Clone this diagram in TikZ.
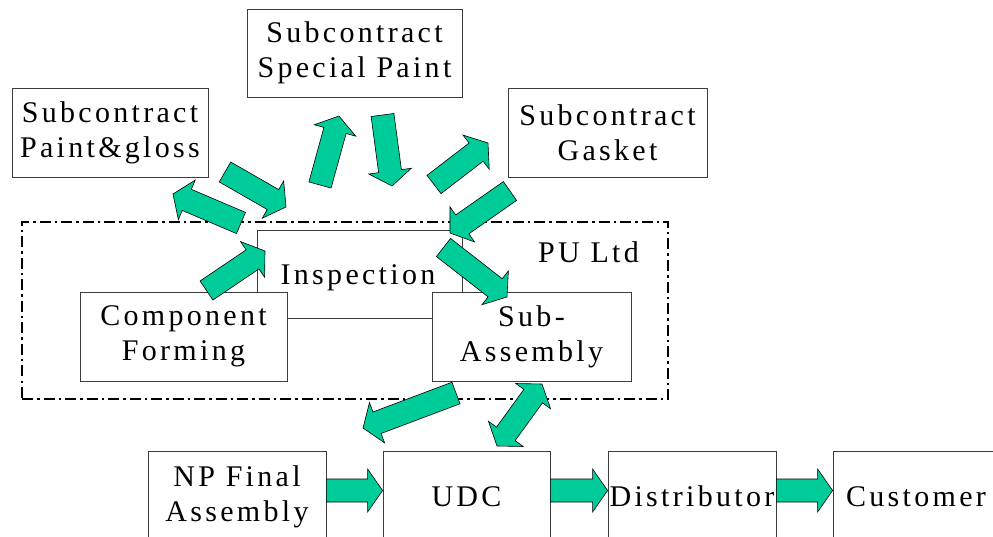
\documentclass[tikz,border=0pt]{standalone}
\usepackage{fontspec}
\setmainfont{Liberation Serif}[LetterSpace=11]
\usetikzlibrary{calc}
\definecolor{arrowgreen}{RGB}{0,204,153}
\definecolor{boxline}{RGB}{60,60,60}
\newcommand\arsw{11.5pt}
\newcommand\arhw{21.5pt}
\newcommand\arhl{15pt}
\tikzset{
  box/.style={draw=boxline, line width=0.8pt, fill=white, inner sep=0pt, align=center,
    font=\fontsize{30}{35}\selectfont},
  lbl/.style={inner sep=0pt, font=\fontsize{30}{35}\selectfont},
  puframe/.style={draw=black, line width=2.5pt, dash pattern=on 11pt off 4pt on 2.5pt off 4pt, inner sep=0pt},
  blockarrow/.style={draw=black, line width=0.6pt, fill=arrowgreen, line join=miter,
    to path={
      ($(\tikztostart)!\arsw!90:(\tikztotarget)$)
      -- ($(\tikztotarget)!\arhl!(\tikztostart)!\arsw!-90:(\tikztostart)$)
      -- ($(\tikztotarget)!\arhl!(\tikztostart)!\arhw!-90:(\tikztostart)$)
      -- (\tikztotarget)
      -- ($(\tikztotarget)!\arhl!(\tikztostart)!\arhw!90:(\tikztostart)$)
      -- ($(\tikztotarget)!\arhl!(\tikztostart)!\arsw!90:(\tikztostart)$)
      -- ($(\tikztostart)!\arsw!-90:(\tikztotarget)$)
      -- cycle}},
  dblarrow/.style={draw=black, line width=0.6pt, fill=arrowgreen, line join=miter,
    to path={
      (\tikztostart)
      -- ($(\tikztostart)!\arhl!(\tikztotarget)!\arhw!90:(\tikztotarget)$)
      -- ($(\tikztostart)!\arhl!(\tikztotarget)!\arsw!90:(\tikztotarget)$)
      -- ($(\tikztotarget)!\arhl!(\tikztostart)!\arsw!-90:(\tikztostart)$)
      -- ($(\tikztotarget)!\arhl!(\tikztostart)!\arhw!-90:(\tikztostart)$)
      -- (\tikztotarget)
      -- ($(\tikztotarget)!\arhl!(\tikztostart)!\arhw!90:(\tikztostart)$)
      -- ($(\tikztotarget)!\arhl!(\tikztostart)!\arsw!90:(\tikztostart)$)
      -- ($(\tikztostart)!\arhl!(\tikztotarget)!\arsw!-90:(\tikztotarget)$)
      -- ($(\tikztostart)!\arhl!(\tikztotarget)!\arhw!-90:(\tikztotarget)$)
      -- cycle}}
}
\begin{document}
\begin{tikzpicture}[x=1pt,y=-1pt]
\useasboundingbox (0,0) rectangle (993,537);
\fill[white] (0,0) rectangle (993,537);
\clip (0,0) rectangle (993,537);

% PU Ltd frame
\node[puframe, minimum width=646pt, minimum height=177pt] (pu) at (345,310.5) {};
\node[lbl, anchor=base west] (pulbl) at (538,263) {PU Ltd};

% boxes
\node[box, minimum width=205pt, minimum height=88pt] (insp) at (359.5,274) {};
\node[lbl, anchor=base] (insptxt) at (358,285) {Inspection};
\node[box, minimum width=207pt, minimum height=89pt] (cf) at (183.5,336.5) {Component\\Forming};
\node[box, minimum width=199pt, minimum height=89pt] (sa) at (531.5,336.5) {Sub-\\Assembly};

\node[box, minimum width=215pt, minimum height=88pt] (sp) at (354.5,53) {Subcontract\\Special Paint};
\node[box, minimum width=196pt, minimum height=89pt] (pg) at (110,132.5) {Subcontract\\Paint\&gloss};
\node[box, minimum width=199pt, minimum height=89pt] (gk) at (607.5,132.5) {Subcontract\\Gasket};

\node[box, minimum width=178pt, minimum height=91pt] (np) at (237,496.5) {NP Final\\Assembly};
\node[box, minimum width=167pt, minimum height=91pt] (udc) at (466.5,496.5) {UDC};
\node[box, minimum width=168pt, minimum height=91pt] (dist) at (692,496.5) {Distributor};
\node[box, minimum width=166pt, minimum height=91pt] (cust) at (916,496.5) {Customer};

% arrow end points
\coordinate (a1s) at (241,223);   \coordinate (a1e) at (173,194);
\coordinate (a2s) at (225,172);   \coordinate (a2e) at (286,207);
\coordinate (a3s) at (320,185);   \coordinate (a3e) at (339,116);
\coordinate (a4s) at (382.5,115); \coordinate (a4e) at (392,186);
\coordinate (a5s) at (434,184.5); \coordinate (a5e) at (488,143);
\coordinate (a6s) at (510,191);   \coordinate (a6e) at (450,233);
\coordinate (a7s) at (206.5,290.5); \coordinate (a7e) at (265,251);
\coordinate (a8s) at (443.5,247.5); \coordinate (a8e) at (507,297);
\coordinate (a9s) at (456,393);   \coordinate (a9e) at (363,428);
\coordinate (a10s) at (497,446);  \coordinate (a10e) at (542,384);

\path[blockarrow] (a1s) to (a1e);
\path[blockarrow] (a2s) to (a2e);
\path[blockarrow] (a3s) to (a3e);
\path[blockarrow] (a4s) to (a4e);
\path[blockarrow] (a5s) to (a5e);
\path[blockarrow] (a6s) to (a6e);
\path[blockarrow] (a7s) to (a7e);
\path[blockarrow] (a8s) to (a8e);
\path[blockarrow] (a9s) to (a9e);
\path[dblarrow] (a10s) to (a10e);

\path[blockarrow] (np.east |- 0,490.5) to (udc.west |- 0,490.5);
\path[blockarrow] (udc.east |- 0,490.5) to (dist.west |- 0,490.5);
\path[blockarrow] (dist.east |- 0,490.5) to (cust.west |- 0,490.5);
\end{tikzpicture}
\end{document}
